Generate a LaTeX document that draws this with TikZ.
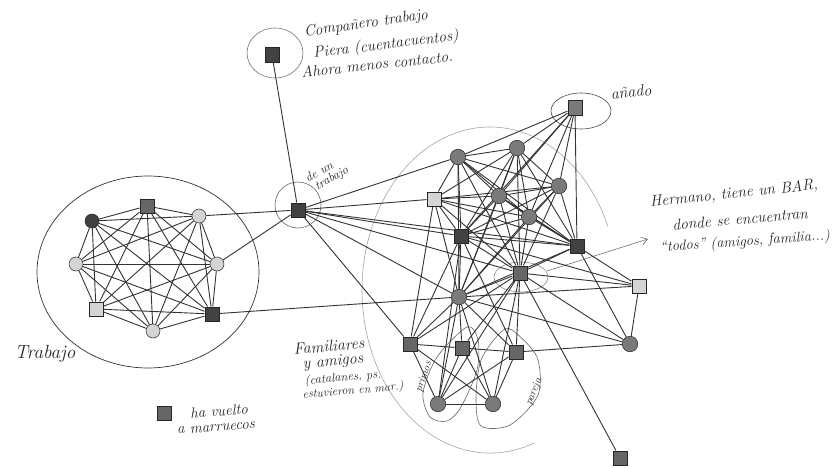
\documentclass[tikz,border=0pt]{standalone}
\usetikzlibrary{arrows.meta}
\pgfdeclarelayer{bg}
\pgfsetlayers{bg,main}
\begin{document}
\begin{tikzpicture}[x=1pt,y=-1pt,
  nd/.style={draw=black!85,line width=0.5pt,inner sep=0pt,minimum size=14.5pt},
  sqd/.style={nd,rectangle,fill=black!74},
  sqm/.style={nd,rectangle,fill=black!60},
  sqa/.style={nd,rectangle,fill=black!52},
  sql/.style={nd,rectangle,fill=black!17},
  cid/.style={nd,circle,fill=black!75,minimum size=14pt},
  cil/.style={nd,circle,fill=black!17,minimum size=14pt},
  cim/.style={nd,circle,fill=black!52,minimum size=15.5pt},
  edge/.style={draw=black!80,line width=0.9pt},
  pencil/.style={draw=black!70,line width=0.6pt},
  lightpencil/.style={draw=black!35,line width=0.6pt},
  hand/.style={font=\itshape, text=black!85, inner sep=0pt, align=center}
]
\path[use as bounding box] (0,0) rectangle (838,468);

% ---- left cluster (Trabajo)
\node[cid] (l1) at (92,221) {};
\node[sqm] (l2) at (147,206) {};
\node[cil] (l3) at (199,216) {};
\node[cil] (l4) at (217,264) {};
\node[sqd] (l5) at (212,314) {};
\node[cil] (l6) at (153,331) {};
\node[sql] (l7) at (96,309) {};
\node[cil] (l8) at (76,264) {};

% ---- hub and top node
\node[sqd] (hub) at (298,210) {};
\node[sqd] (top) at (272,55) {};

% ---- right cluster
\node[cim] (r1) at (458,157) {};
\node[cim] (r2) at (517,148) {};
\node[cim] (r3) at (559,186) {};
\node[cim] (r4) at (499,196) {};
\node[sql] (r5) at (434,199) {};
\node[cim] (r6) at (529,217) {};
\node[sqd] (r7) at (461,236) {};
\node[sqd] (r8) at (577,246) {};
\node[sqm] (r9) at (520,273) {};
\node[cim] (r10) at (459,297) {};
\node[sqa] (an) at (575,108) {};
\node[sql] (J) at (639,286) {};
\node[cim] (O) at (630,344) {};
\node[sqm] (L) at (410,344) {};
\node[sqm] (M) at (462,348) {};
\node[sqm] (N) at (516,352) {};
\node[cim] (P) at (438,404) {};
\node[cim] (Q) at (493,404) {};
\node[sqm] (R) at (620,458) {};

% legend
\node[sqm] (leg) at (164,413) {};

\begin{pgfonlayer}{bg}
  \fill[white] (0,0) rectangle (838,468);
  % annotation curves
  \draw[draw=black!80,line width=0.7pt] (148,272) ellipse[x radius=111,y radius=96];
  \draw[pencil,draw=black!55] (275,53) ellipse[x radius=28,y radius=25];
  \draw[pencil,draw=black!60] (298,205) circle[radius=23];
  \draw[pencil] (581,111) ellipse[x radius=30,y radius=18];
  \draw[lightpencil] (533.8,443.2) arc[start angle=70,end angle=337,x radius=128,y radius=163];
  \draw[pencil,draw=black!45] (521,277) ellipse[x radius=27,y radius=15];
  \coordinate (arrs) at (547,271);
  \coordinate (arre) at (648,239);
  \draw[pencil,draw=black!55,-{Straight Barb[length=6pt,width=8pt]}] (arrs) -- (arre);
  \draw[pencil,draw=black!60] plot[smooth cycle] coordinates
    {(467,327) (437,357) (423,393) (430,417) (447,421) (461,407) (477,370) (478,340)};
  \draw[pencil,draw=black!60] plot[smooth cycle] coordinates
    {(512,330) (537,357) (538,395) (510,425) (481,426) (476,398) (481,360) (500,333)};

  % left clique
  \foreach \i in {1,...,8}{\foreach \j in {1,...,8}{\ifnum\i<\j \draw[edge] (l\i) -- (l\j);\fi}}
  % right core clique
  \foreach \i in {1,...,10}{\foreach \j in {1,...,10}{\ifnum\i<\j \draw[edge] (r\i) -- (r\j);\fi}}
  % hub
  \foreach \t in {top,l3,l4,r1,r5,r7,r8,r9,r10,L} \draw[edge] (hub) -- (\t);
  \draw[edge] (l5) -- (r10);
  % anadido
  \foreach \t in {r1,r2,r3,r4,r6,r7,r8} \draw[edge] (an) -- (\t);
  % right side
  \foreach \t in {r9,r10,O,r7,r4} \draw[edge] (J) -- (\t);
  \foreach \t in {r10,N,r9,r8} \draw[edge] (O) -- (\t);
  \draw[edge] (R) -- (r9);
  % lower group
  \foreach \t in {r10,r9,r7,r5,M,P,Q} \draw[edge] (L) -- (\t);
  \foreach \t in {r10,r9,N,P,Q} \draw[edge] (M) -- (\t);
  \foreach \t in {r10,r9,r7,P,Q} \draw[edge] (N) -- (\t);
  \foreach \t in {Q,r10,r9,r7} \draw[edge] (P) -- (\t);
  \foreach \t in {r10,r9} \draw[edge] (Q) -- (\t);
\end{pgfonlayer}

% ---- texts
\node[hand,font=\itshape\fontsize{15.5}{17}\selectfont,rotate=8] (t1) at (366,24) {Compañero trabajo};
\node[hand,font=\itshape\fontsize{15.5}{17}\selectfont,rotate=7] (t2) at (386,45) {Piera (cuentacuentos)};
\node[hand,font=\itshape\fontsize{15.5}{17}\selectfont,rotate=6] (t3) at (377,64) {Ahora menos contacto.};

\node[hand,font=\itshape\fontsize{16}{18}\selectfont,rotate=6] (t4) at (631,92) {añado};

\node[hand,font=\itshape\fontsize{12.5}{12}\selectfont,rotate=29,align=left] (t5) at (327,175) {de un\\[-1pt]\hspace*{5pt}trabajo};

\node[hand,font=\itshape\fontsize{15.5}{17}\selectfont,rotate=6] (t7) at (734,194) {Hermano, tiene un BAR,};
\node[hand,font=\itshape\fontsize{15.5}{17}\selectfont,rotate=5] (t8) at (740,219) {donde se encuentran};
\node[hand,font=\itshape\fontsize{14.5}{17}\selectfont,rotate=4] (t9) at (745,242) {``todos'' (amigos, familia...)};

\node[hand,font=\itshape\fontsize{19}{21}\selectfont] (t10) at (45,354) {Trabajo};

\node[hand,font=\itshape\fontsize{16}{17}\selectfont,rotate=5] (t11) at (329,346) {Familiares};
\node[hand,font=\itshape\fontsize{16}{17}\selectfont,rotate=5] (t12) at (333,362) {y amigos};
\node[hand,font=\itshape\fontsize{12.5}{13}\selectfont,rotate=5] (t13) at (343,378) {(catalanes, ps.};
\node[hand,font=\itshape\fontsize{12}{13}\selectfont,rotate=5] (t14) at (353,391) {estuvieron en mar.)};

\node[hand,font=\itshape\fontsize{11}{12}\selectfont,rotate=71] (t15) at (424,377) {primos};
\node[hand,font=\itshape\fontsize{11}{12}\selectfont,rotate=68] (t16) at (534,392) {pareja};

\node[hand,font=\itshape\fontsize{15}{17}\selectfont,rotate=4] (t17) at (219,411) {ha vuelto};
\node[hand,font=\itshape\fontsize{15}{17}\selectfont,rotate=4] (t18) at (216,428) {a marruecos};
\end{tikzpicture}
\end{document}
